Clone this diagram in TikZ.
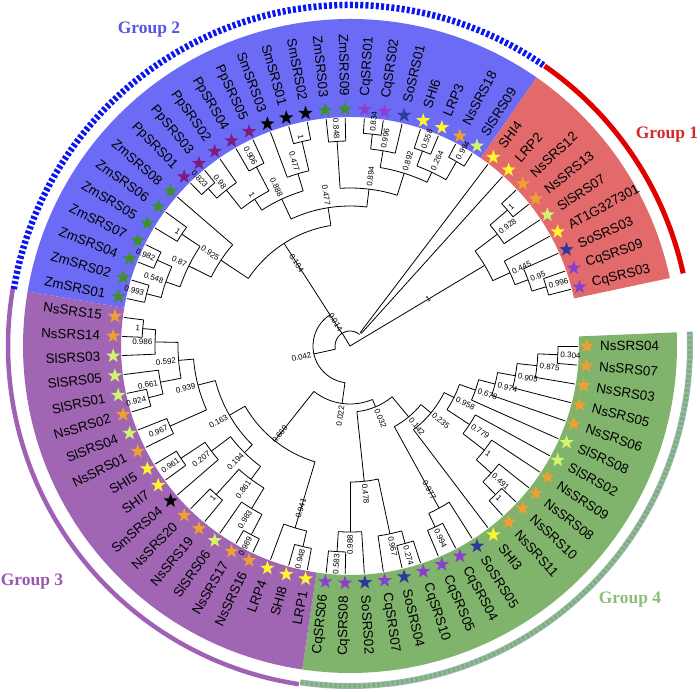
\documentclass[tikz,border=0pt]{standalone}
\usepackage{fontspec}
\setmainfont{Liberation Sans}
\newfontfamily\grpfont{Liberation Serif}
\usetikzlibrary{shapes.geometric}
\definecolor{cor}{HTML}{F0A030}
\definecolor{cyl}{HTML}{FFF52E}
\definecolor{clm}{HTML}{D2F56E}
\definecolor{cgr}{HTML}{3F8F2A}
\definecolor{cnv}{HTML}{2E3A99}
\definecolor{cvi}{HTML}{8B3FD0}
\definecolor{cpu}{HTML}{7D1B7E}
\definecolor{bandA}{HTML}{E26A6A}
\definecolor{bandB}{HTML}{6B6BF5}
\definecolor{bandC}{HTML}{A065B3}
\definecolor{bandD}{HTML}{80B36B}
\definecolor{ringA}{HTML}{E00000}
\definecolor{ringB}{HTML}{0A14F0}
\definecolor{ringC}{HTML}{A060B5}
\definecolor{ringD}{HTML}{7FB36A}
\definecolor{ringDe}{HTML}{9FB5CC}
\definecolor{lblA}{HTML}{D42A2A}
\definecolor{lblB}{HTML}{5555DD}
\definecolor{lblC}{HTML}{9B55AF}
\definecolor{lblD}{HTML}{8CBE78}

% text set along a ray, always readable
\newcommand{\radlbl}[5]{%
  \pgfmathtruncatemacro\rside{cos(#2)>0}%
  \ifnum\rside=1\relax
    \node[#4,anchor=west,rotate=#2] (#1) at (#2:#3pt) {#5};%
  \else
    \node[#4,anchor=east,rotate=#2+180] (#1) at (#2:#3pt) {#5};%
  \fi}
% inner node: name, angle, parent r, r, first child, last child, support, label r
\newcommand{\tn}[8]{%
  \draw[br] (#2:#3pt) -- (#2:#4pt);
  \draw[br] (#5:#4pt) arc[start angle=#5,end angle=#6,radius=#4pt];
  \radlbl{#1}{#2}{#8}{bstxt}{#7}}

\begin{document}
\begin{tikzpicture}[x=1pt,y=1pt,
    br/.style={line width=0.8pt,black},
    leafstar/.style={star,star points=5,star point ratio=2.5,minimum size=15pt,inner sep=0pt,draw=none},
    leaftxt/.style={font=\fontsize{13.4}{15}\selectfont,inner sep=0pt},
    bstxt/.style={font=\fontsize{8}{9}\selectfont,inner sep=0.5pt},
    grplbl/.style={font=\grpfont\bfseries\fontsize{17.5}{20}\selectfont}
]
\useasboundingbox (-350,-345) rectangle (350,346);

% group sectors
\fill[bandD] (2.4:229pt) arc[start angle=2.4,end angle=-98.4,radius=229pt] -- (-98.4:327pt) arc[start angle=-98.4,end angle=2.4,radius=327pt] -- cycle;
\fill[bandC] (-98.4:229pt) arc[start angle=-98.4,end angle=-189.6,radius=229pt] -- (-189.6:327pt) arc[start angle=-189.6,end angle=-98.4,radius=327pt] -- cycle;
\fill[bandB] (170.4:229pt) arc[start angle=170.4,end angle=55.2,radius=229pt] -- (55.2:327pt) arc[start angle=55.2,end angle=170.4,radius=327pt] -- cycle;
\fill[bandA] (55.2:229pt) arc[start angle=55.2,end angle=12,radius=229pt] -- (12:327pt) arc[start angle=12,end angle=55.2,radius=327pt] -- cycle;

% outer rings
\draw[line width=5pt,ringA] (55.2:341pt) arc[start angle=55.2,end angle=12.3,radius=341pt];
\draw[line width=6.5pt,ringB,dash pattern=on 3pt off 2.2pt] (170.4:341pt) arc[start angle=170.4,end angle=55.2,radius=341pt];
\draw[line width=4.5pt,ringC] (170.4:342pt) arc[start angle=170.4,end angle=261.4,radius=342pt];
\draw[line width=6pt,ringDe] (261.6:340pt) arc[start angle=261.6,end angle=362.4,radius=340pt];
\draw[line width=4.6pt,ringD,dash pattern=on 3.2pt off 1.6pt] (261.6:340pt) arc[start angle=261.6,end angle=362.4,radius=340pt];

\node[grplbl,text=lblA] (gA) at (317,211) {Group 1};
\node[grplbl,text=lblB] (gB) at (-201,316) {Group 2};
\node[grplbl,text=lblC] (gC) at (-318,-236) {Group 3};
\node[grplbl,text=lblD] (gD) at (280,-254) {Group 4};

% root and backbone
\tn{bX}{30.9}{0}{157}{37.2}{24.6}{1}{88}
\draw[br] (0,0) -- (121.4:15pt);
\draw[br] (50.4:15pt) arc[start angle=50.4,end angle=192.4,radius=15pt];
\radlbl{bP}{121.4}{17}{bstxt}{0.014}
\draw[br] (52.8:17pt) arc[start angle=52.8,end angle=48,radius=17pt];
\tn{bU}{192.4}{15}{37}{122.7}{262.17}{0.042}{39}
\tn{bG2}{122.7}{15}{122}{146.4}{99}{0.104}{88}
\tn{bV}{262.17}{37}{58}{231.525}{292.81}{0.022}{60}
\tn{bG3}{-128.475}{58}{121}{-150.15}{-106.8}{0.669}{102}
\tn{bk4}{-67.19}{58}{66}{-50.38}{-84}{0.032}{68}

% group 1
\tn{bg1a}{40.8}{185}{208}{43.2}{38.4}{1}{210}
\tn{bg1b}{37.2}{157}{185}{40.8}{33.6}{0.928}{187}
\tn{bg1c}{16.8}{190}{205}{19.2}{14.4}{0.996}{207}
\tn{bg1d}{20.4}{176}{190}{24}{16.8}{0.95}{192}
\tn{bg1e}{24.6}{157}{176}{28.8}{20.4}{0.445}{178}

% group 4
\tn{ba1}{-2.4}{188}{208}{0}{-4.8}{0.304}{210}
\tn{ba2}{-6}{168}{188}{-2.4}{-9.6}{0.875}{190}
\tn{ba3}{-10.2}{150}{168}{-6}{-14.4}{0.905}{170}
\tn{ba4}{-14.7}{133}{150}{-10.2}{-19.2}{0.974}{152}
\tn{ba5}{-19.35}{116}{133}{-14.7}{-24}{0.678}{135}
\tn{bc1}{-45.6}{190}{208}{-43.2}{-48}{1}{210}
\tn{bc2}{-42}{170}{190}{-38.4}{-45.6}{0.491}{192}
\tn{bc3}{-37.8}{143}{170}{-33.6}{-42}{1}{172}
\tn{bc4}{-33.3}{116}{143}{-28.8}{-37.8}{0.779}{145}
\tn{bb1}{-26.325}{105}{116}{-19.35}{-33.3}{0.958}{118}
\tn{bd1}{-39.56}{92}{105}{-26.325}{-52.8}{0.235}{107}
\tn{be1}{-64.8}{185}{200}{-62.4}{-67.2}{0.994}{202}
\tn{be2}{-61.2}{92}{185}{-57.6}{-64.8}{0.977}{154}
\tn{bd2}{-50.38}{66}{92}{-39.56}{-61.2}{0.142}{94}
\tn{bf1}{-74.4}{192}{205}{-72}{-76.8}{0.274}{207}
\tn{bf2}{-78}{136}{192}{-81.6}{-74.4}{0.967}{194}
\tn{bgg1}{-93.6}{186}{206}{-91.2}{-96}{0.583}{208}
\tn{bgg2}{-90}{136}{186}{-86.4}{-93.6}{0.988}{188}
\tn{bh1}{-84}{66}{136}{-90}{-78}{0.478}{138}

% group 3
\tn{bm1}{-184.8}{195}{208}{-182.4}{-187.2}{1}{210}
\tn{bm2}{-181.2}{172}{195}{-177.6}{-184.8}{0.986}{197}
\tn{bm3}{-165.6}{193}{208}{-163.2}{-168}{0.924}{210}
\tn{bm4}{-169.2}{172}{193}{-165.6}{-172.8}{0.661}{195}
\tn{bm5}{-175.2}{157}{172}{-169.2}{-181.2}{0.592}{174}
\tn{bm6}{-156}{157}{197}{-153.6}{-158.4}{0.967}{199}
\tn{bm7}{-165.6}{139}{157}{-156}{-175.2}{0.939}{159}
\tn{bm8}{-146.4}{174}{203}{-144}{-148.8}{0.961}{205}
\tn{bm9}{-142.8}{150}{174}{-139.2}{-146.4}{0.207}{176}
\tn{bm10}{-132}{166}{200}{-129.6}{-134.4}{1}{202}
\tn{bm11}{-117.6}{190}{213}{-115.2}{-120}{0.989}{215}
\tn{bm12}{-121.2}{166}{190}{-124.8}{-117.6}{0.983}{192}
\tn{bm13}{-126.6}{150}{166}{-132}{-121.2}{0.861}{168}
\tn{bm14}{-134.7}{139}{150}{-142.8}{-126.6}{0.194}{152}
\tn{bm15}{-150.15}{121}{139}{-165.6}{-134.7}{0.163}{141}
\tn{bm16}{-103.2}{190}{206}{-100.8}{-105.6}{0.948}{208}
\tn{bm17}{-106.8}{121}{190}{-110.4}{-103.2}{0.941}{159}

% group 2
\tn{bn1}{165.6}{195}{210}{168}{163.2}{0.993}{212}
\tn{bn2}{156}{195}{211}{158.4}{153.6}{0.982}{213}
\tn{bn3}{160.8}{180}{195}{165.6}{156}{0.548}{197}
\tn{bn4}{146.4}{180}{202}{148.8}{144}{1}{204}
\tn{bn5}{153.6}{155}{180}{160.8}{146.4}{0.87}{182}
\tn{bn6}{146.4}{122}{155}{153.6}{139.2}{0.925}{157}
\tn{bn7}{132}{199}{212}{134.4}{129.6}{0.823}{214}
\tn{bn8}{128.4}{175}{199}{132}{124.8}{0.98}{201}
\tn{bn9}{117.6}{175}{202}{120}{115.2}{0.906}{204}
\tn{bn10}{123}{162}{175}{128.4}{117.6}{1}{177}
\tn{bn11}{103.2}{180}{210}{105.6}{100.8}{1}{212}
\tn{bn12}{106.8}{162}{180}{110.4}{103.2}{0.477}{182}
\tn{bn13}{114.9}{140}{162}{123}{106.8}{0.888}{164}
\tn{bn14}{93.6}{158}{205}{96}{91.2}{0.848}{207}
\tn{bn15}{84}{198}{213}{86.4}{81.6}{0.834}{215}
\tn{bn16}{80.4}{181}{198}{84}{76.8}{0.996}{200}
\tn{bn17}{69.6}{192}{208}{72}{67.2}{0.558}{210}
\tn{bn18}{60}{192}{213}{62.4}{57.6}{0.994}{215}
\tn{bn19}{64.8}{181}{192}{69.6}{60}{0.264}{194}
\tn{bn20}{72.6}{158}{181}{80.4}{64.8}{0.892}{183}
\tn{bn21}{83.1}{140}{158}{93.6}{72.6}{0.894}{160}
\tn{bn22}{99}{122}{140}{114.9}{83.1}{0.477}{142}

% leaves
\foreach \i/\nm/\cl/\pr in {
  0/NsSRS04/cor/208, 1/NsSRS07/cor/208, 2/NsSRS03/cor/188, 3/NsSRS05/cor/168,
  4/NsSRS06/cor/150, 5/SlSRS08/clm/133, 6/SlSRS02/clm/143, 7/NsSRS09/cor/170,
  8/NsSRS08/cor/190, 9/NsSRS10/cor/208, 10/NsSRS11/cor/208, 11/SHI3/cyl/105,
  12/SoSRS05/cnv/185, 13/CqSRS04/cvi/200, 14/CqSRS05/cvi/200, 15/CqSRS10/cvi/205,
  16/SoSRS04/cnv/205, 17/CqSRS07/cvi/192, 18/SoSRS02/cnv/186, 19/CqSRS08/cvi/206,
  20/CqSRS06/cvi/206,
  21/LRP1/cyl/206, 22/SHI8/cyl/206, 23/LRP4/cyl/190, 24/NsSRS16/cor/213,
  25/NsSRS17/cor/213, 26/SlSRS06/clm/190, 27/NsSRS19/cor/200, 28/NsSRS20/cor/200,
  29/SmSRS04/black/174, 30/SHI7/cyl/203, 31/SHI5/cyl/203, 32/NsSRS01/cor/197,
  33/SlSRS04/clm/197, 34/NsSRS02/cor/208, 35/SlSRS01/clm/208, 36/SlSRS05/clm/193,
  37/SlSRS03/clm/195, 38/NsSRS14/cor/208, 39/NsSRS15/cor/208,
  40/ZmSRS01/cgr/210, 41/ZmSRS02/cgr/210, 42/ZmSRS04/cgr/211, 43/ZmSRS07/cgr/211,
  44/ZmSRS05/cgr/202, 45/ZmSRS06/cgr/202, 46/ZmSRS08/cgr/155, 47/PpSRS01/cpu/212,
  48/PpSRS03/cpu/212, 49/PpSRS02/cpu/199, 50/PpSRS04/cpu/202, 51/PpSRS05/cpu/202,
  52/SmSRS03/black/180, 53/SmSRS01/black/210, 54/SmSRS02/black/210, 55/ZmSRS03/cgr/205,
  56/ZmSRS09/cgr/205, 57/CqSRS01/cvi/213, 58/CqSRS02/cvi/213, 59/SoSRS01/cnv/198,
  60/SHI6/cyl/208, 61/LRP3/cyl/208, 62/NsSRS18/cor/213, 63/SlSRS09/clm/213,
  64/SHI4/cyl/17, 65/LRP2/cyl/17, 66/NsSRS12/cor/208, 67/NsSRS13/cor/208,
  68/SlSRS07/clm/185, 69/AT1G327301/cyl/176, 70/SoSRS03/cnv/190, 71/CqSRS09/cvi/205,
  72/CqSRS03/cvi/205}{
  \pgfmathsetmacro\ang{-4.8*\i}
  \draw[br] (\ang:\pr pt) -- (\ang:228pt);
  \node[leafstar,fill=\cl] (st\i) at (\ang:237pt) {};
  \radlbl{lf\i}{\ang}{250}{leaftxt}{\nm}
}
\end{tikzpicture}
\end{document}
